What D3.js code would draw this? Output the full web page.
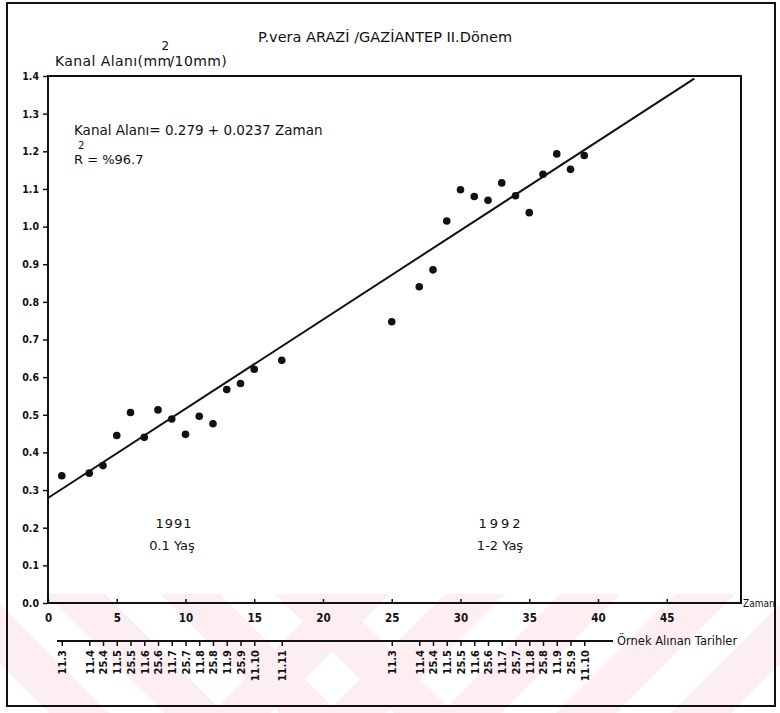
<!DOCTYPE html>
<html>
<head>
<meta charset="utf-8">
<script src="https://cdn.jsdelivr.net/npm/d3@7"></script>
<style>
  html, body { margin: 0; padding: 0; background: #fff; }
  svg { display: block; }
  text { font-family: "DejaVu Sans", "Liberation Sans", sans-serif; fill: #111; }
</style>
</head>
<body>
<svg id="chart" width="780" height="713"></svg>
<script>
// Sampling time (Zaman) and canal area (mm²/10mm), 1991 season (0-1 years)
const zaman1991 = [1, 3, 4, 5, 6, 7, 8, 9, 10, 11, 12, 13, 14, 15, 17];
const alan1991  = [0.338, 0.345, 0.365, 0.445, 0.506, 0.440, 0.513, 0.489, 0.448, 0.496, 0.476, 0.567, 0.583, 0.621, 0.645];
const tarih1991 = ["11.3", "11.4", "25.4", "11.5", "25.5", "11.6", "25.6", "11.7", "25.7", "11.8", "25.8", "11.9", "25.9", "11.10", "11.11"];

// 1992 season (1-2 years)
const zaman1992 = [25, 27, 28, 29, 30, 31, 32, 33, 34, 35, 36, 37, 38, 39];
const alan1992  = [0.747, 0.840, 0.885, 1.015, 1.098, 1.080, 1.070, 1.116, 1.082, 1.037, 1.139, 1.193, 1.152, 1.189];
const tarih1992 = ["11.3", "11.4", "25.4", "11.5", "25.5", "11.6", "25.6", "11.7", "25.7", "11.8", "25.8", "11.9", "25.9", "11.10"];

// Fitted regression: Kanal Alanı = 0.279 + 0.0237 Zaman
const intercept = 0.279;
const slope = 0.0237;
const fitRange = [0, 47];

const yTicks = [0, 0.1, 0.2, 0.3, 0.4, 0.5, 0.6, 0.7, 0.8, 0.9, 1.0, 1.1, 1.2, 1.3, 1.4];
const xTicks = [0, 5, 10, 15, 20, 25, 30, 35, 40, 45];

const svg = d3.select("#chart");
const W = 780, H = 713;

// Plot frame
const pL = 48, pR = 741, pT = 76, pB = 603;
const x = d3.scaleLinear().domain([0, 50.4]).range([pL, pR]);
const y = d3.scaleLinear().domain([0, 1.4]).range([pB, pT]);

// Faint pink diagonal band across the lower part of the sheet
const bandTop = 594;
svg.append("clipPath").attr("id", "bandClip")
  .append("rect").attr("x", 0).attr("y", bandTop).attr("width", W).attr("height", H - bandTop);
const bandG = svg.append("g").attr("clip-path", "url(#bandClip)");
const stripeW = 60, period = 115, bh = H - bandTop;
for (let s = -300; s < 300; s += period) {
  bandG.append("polygon")
    .attr("points", [[s, bandTop], [s + stripeW, bandTop], [s + stripeW + bh, H], [s + bh, H]].map(p => p.join(",")).join(" "))
    .attr("fill", "#fdeef1");
}
for (let s = 330; s < 1000; s += period) {
  bandG.append("polygon")
    .attr("points", [[s, bandTop], [s + stripeW, bandTop], [s + stripeW - bh, H], [s - bh, H]].map(p => p.join(",")).join(" "))
    .attr("fill", "#fdeef1");
}

// Outer sheet border
svg.append("rect")
  .attr("x", 7).attr("y", 3).attr("width", 768).attr("height", 703)
  .attr("fill", "none").attr("stroke", "#111").attr("stroke-width", 2);

// Title
svg.append("text")
  .attr("x", 385).attr("y", 42)
  .attr("text-anchor", "middle")
  .attr("font-size", 14.5)
  .text("P.vera ARAZİ /GAZİANTEP II.Dönem");

// Y axis title with superscript
const yt = svg.append("text").attr("x", 55).attr("y", 66).attr("font-size", 14).attr("letter-spacing", 0.4);
yt.append("tspan").text("Kanal Alanı(mm");
yt.append("tspan").attr("dy", -16).attr("dx", -10).attr("font-size", 12).text("2");
yt.append("tspan").attr("dy", 16).attr("dx", 0).text("/10mm)");

// Frame
svg.append("rect")
  .attr("x", pL).attr("y", pT)
  .attr("width", pR - pL).attr("height", pB - pT)
  .attr("fill", "none").attr("stroke", "#111").attr("stroke-width", 2);

// Y axis
const yAxis = svg.append("g")
  .attr("transform", `translate(${pL},0)`)
  .call(d3.axisLeft(y).tickValues(yTicks).tickSize(5).tickPadding(4).tickFormat(d3.format(".1f")));
yAxis.select(".domain").remove();
yAxis.selectAll("line").attr("stroke", "#111").attr("stroke-width", 1.5);
yAxis.selectAll("text").attr("font-size", 10.5).attr("font-weight", "bold").attr("fill", "#111")
  .style("font-family", "'DejaVu Sans Condensed', 'DejaVu Sans', sans-serif");

// X axis (Zaman)
const xAxis = svg.append("g")
  .attr("transform", `translate(0,${pB})`)
  .call(d3.axisBottom(x).tickValues(xTicks).tickSize(-4).tickPadding(11).tickFormat(d3.format("d")));
xAxis.select(".domain").remove();
xAxis.selectAll("line").attr("stroke", "#111").attr("stroke-width", 1.5);
xAxis.selectAll("text").attr("font-size", 11.5).attr("font-weight", "bold").attr("fill", "#111")
  .style("font-family", "'DejaVu Sans Condensed', 'DejaVu Sans', sans-serif");

svg.append("text").attr("x", 743).attr("y", 607).attr("font-size", 10)
  .style("font-family", "'DejaVu Sans Condensed', 'DejaVu Sans', sans-serif").text("Zaman");

// Sampling-date axis
const dateY = 641;
const zamanAll = zaman1991.concat(zaman1992);
const tarihAll = tarih1991.concat(tarih1992);
svg.append("line")
  .attr("x1", 57).attr("x2", 613).attr("y1", dateY).attr("y2", dateY)
  .attr("stroke", "#111").attr("stroke-width", 2);
const dAxis = svg.append("g")
  .attr("transform", `translate(0,${dateY})`)
  .call(d3.axisBottom(x).tickValues(zamanAll).tickSize(5).tickFormat((d, i) => tarihAll[i]));
dAxis.select(".domain").remove();
dAxis.selectAll("line").attr("stroke", "#111").attr("stroke-width", 1.5);
dAxis.selectAll("text")
  .attr("transform", "rotate(-90)")
  .attr("text-anchor", "end")
  .attr("x", -9).attr("y", 0).attr("dy", "0.35em")
  .attr("font-size", 11).attr("font-weight", "bold").attr("fill", "#111")
  .style("font-family", "'DejaVu Sans Condensed', 'DejaVu Sans', sans-serif");
svg.append("text").attr("x", 617).attr("y", 645).attr("font-size", 11.5).text("Örnek Alınan Tarihler");

// Regression line
svg.append("line")
  .attr("x1", x(fitRange[0])).attr("y1", y(intercept + slope * fitRange[0]))
  .attr("x2", x(fitRange[1])).attr("y2", y(intercept + slope * fitRange[1]))
  .attr("stroke", "#111").attr("stroke-width", 2);

// Observations
const pts = zaman1991.map((z, i) => ({ z, a: alan1991[i] }))
  .concat(zaman1992.map((z, i) => ({ z, a: alan1992[i] })));
svg.append("g").selectAll("circle").data(pts).join("circle")
  .attr("cx", d => x(d.z)).attr("cy", d => y(d.a)).attr("r", 3.8).attr("fill", "#111");

// Regression annotation
svg.append("text").attr("x", 74).attr("y", 135).attr("font-size", 13.5)
  .text("Kanal Alanı= 0.279 + 0.0237 Zaman");
svg.append("text").attr("x", 78).attr("y", 148.5).attr("font-size", 10).text("2");
svg.append("text").attr("x", 74).attr("y", 164).attr("font-size", 13).text("R = %96.7");

// Season labels
svg.append("text").attr("x", 174).attr("y", 528).attr("text-anchor", "middle").attr("font-size", 13)
  .attr("letter-spacing", 1).text("1991");
svg.append("text").attr("x", 172).attr("y", 550).attr("text-anchor", "middle").attr("font-size", 13)
  .text("0.1 Yaş");
svg.append("text").attr("x", 501).attr("y", 528).attr("text-anchor", "middle").attr("font-size", 13)
  .attr("letter-spacing", 3).text("1992");
svg.append("text").attr("x", 500).attr("y", 550).attr("text-anchor", "middle").attr("font-size", 13)
  .text("1-2 Yaş");
</script>
</body>
</html>
